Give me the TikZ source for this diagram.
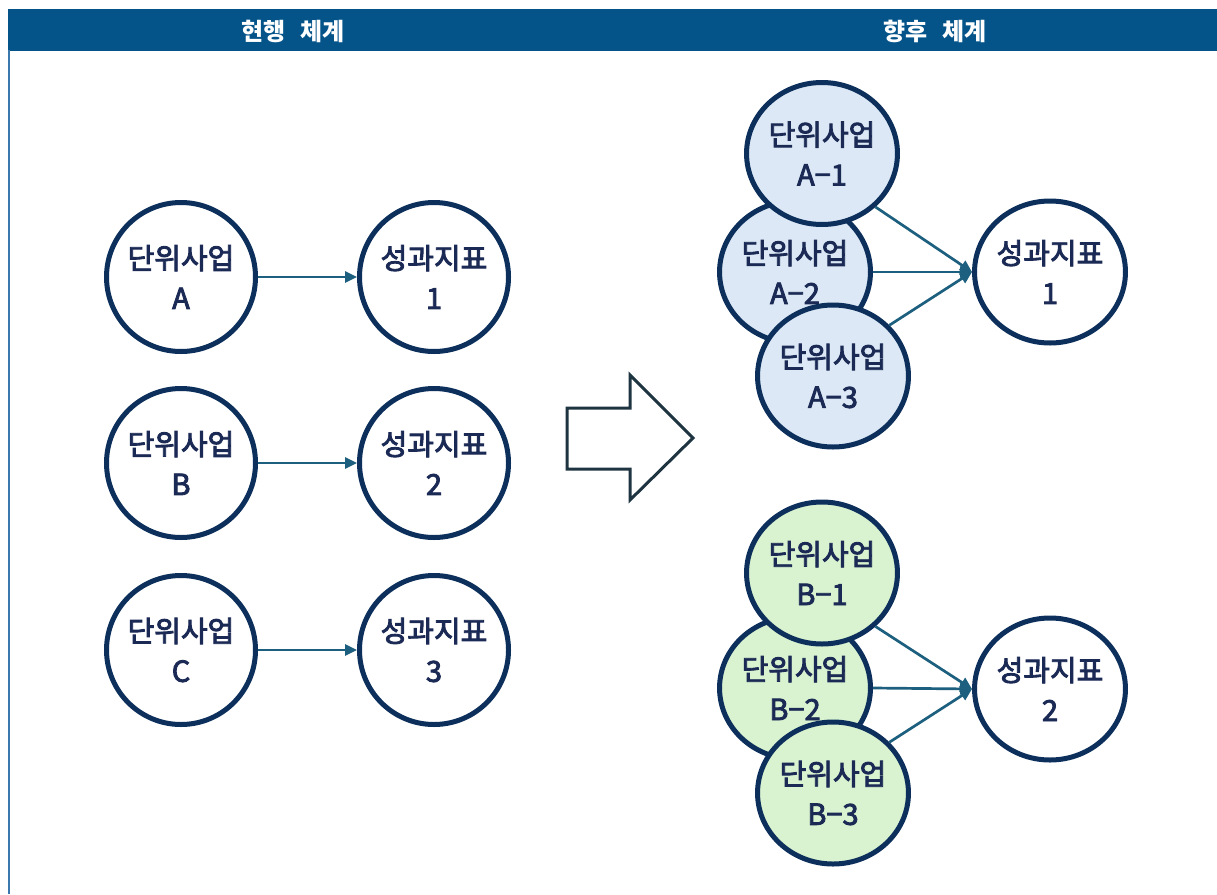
\documentclass[tikz,border=0pt]{standalone}
\usepackage{fontspec}
\setmainfont{Noto Sans CJK KR}
\newfontfamily\krmed{Noto Sans CJK KR}[FakeBold=3]
\usetikzlibrary{arrows.meta,shapes.geometric}
\definecolor{hdr}{HTML}{04548A}
\definecolor{sideline}{HTML}{3A78AE}
\definecolor{ring}{HTML}{0C2F5C}
\definecolor{txt}{HTML}{1B2A55}
\definecolor{link}{HTML}{1D5F7E}
\definecolor{bigarrow}{HTML}{1E3441}
\definecolor{fillA}{HTML}{DCE8F5}
\definecolor{fillB}{HTML}{D9F2D0}
\begin{document}
\begin{tikzpicture}[x=1pt,y=-1pt,
  bub/.style={circle,draw=ring,line width=5pt,minimum size=149pt,inner sep=0pt,
    fill=white,text=txt,align=center,font=\krmed\fontsize{29}{40}\selectfont},
  oval/.style={bub,ellipse,minimum width=150pt,minimum height=142pt},
  ovalA/.style={oval,fill=fillA},
  ovalB/.style={oval,fill=fillB},
  conn/.style={draw=link,line width=2.7pt,-{Triangle[length=12pt,width=11pt]}},
  hdrtext/.style={text=white,font=\fontsize{24}{26}\selectfont\bfseries,inner sep=0pt}
]
\useasboundingbox (0,0) rectangle (1217,894);
% header
\fill[hdr] (8,9) rectangle (1217,50.5);
\draw[sideline,line width=2pt] (9,50) -- (9,894);
\node[hdrtext] (h1) at (293,31) {현행\hspace{0.6em}체계};
\node[hdrtext] (h2) at (935,31) {향후\hspace{0.6em}체계};
% left side
\node[bub] (ua) at (181,277) {단위사업\\A};
\node[bub] (k1) at (434,277) {성과지표\\1};
\node[bub] (ub) at (181,463) {단위사업\\B};
\node[bub] (k2) at (434,463) {성과지표\\2};
\node[bub] (uc) at (181,650) {단위사업\\C};
\node[bub] (k3) at (434,650) {성과지표\\3};
\draw[conn] (ua.east) -- (k1.west);
\draw[conn] (ub.east) -- (k2.west);
\draw[conn] (uc.east) -- (k3.west);
% big arrow
\draw[bigarrow,line width=3pt,line join=miter]
  (567,408) -- (630,408) -- (630,375) -- (693,438) -- (630,500) -- (630,469) -- (567,469) -- cycle;
% cluster A
\node[ovalA] (a2) at (795,272) {단위사업\\A−2};
\node[ovalA] (a1) at (822,153.5) {단위사업\\A−1};
\node[ovalA] (a3) at (833,376) {단위사업\\A−3};
\node[oval] (t1) at (1050,272) {성과지표\\1};
\draw[conn] (a1.-45) -- (t1.west);
\draw[conn] (a2.east) -- (t1.west);
\draw[conn] (a3.42) -- (t1.west);
% cluster B
\node[ovalB] (b2) at (795,688) {단위사업\\B−2};
\node[ovalB] (b1) at (822,573) {단위사업\\B−1};
\node[ovalB] (b3) at (833,793) {단위사업\\B−3};
\node[oval] (t2) at (1050,689) {성과지표\\2};
\draw[conn] (b1.-45) -- (t2.west);
\draw[conn] (b2.east) -- (t2.west);
\draw[conn] (b3.42) -- (t2.west);
\end{tikzpicture}
\end{document}
